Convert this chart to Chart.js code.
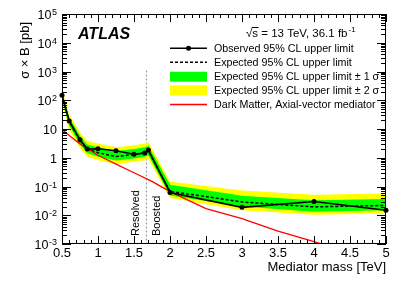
<!DOCTYPE html>
<html>
<head>
<meta charset="utf-8">
<script src="https://cdn.jsdelivr.net/npm/chart.js@4.4.1/dist/chart.umd.min.js"></script>
<style>
  body { margin: 0; background: #fff; }
  canvas { display: block; }
</style>
</head>
<body>
<canvas id="limits" width="407" height="281"></canvas>
<script>
// mediator masses [TeV]
var masses = [0.5, 0.6, 0.75, 0.85, 1.0, 1.25, 1.5, 1.65, 1.7, 2.0, 3.0, 4.0, 5.0];
var observed = [150, 19, 4.2, 2.0, 2.05, 1.75, 1.32, 1.45, 1.85, 0.062, 0.0188, 0.030, 0.0150];
var expected = [150, 18, 4.0, 2.0, 1.5, 1.1, 1.3, 1.5, 1.7, 0.068, 0.029, 0.0195, 0.022];
var plus2 = [240, 32, 7.5, 3.8, 3.1, 2.3, 2.7, 3.1, 3.5, 0.15, 0.072, 0.052, 0.057];
var plus1 = [195, 25, 5.8, 2.9, 2.3, 1.7, 2.0, 2.3, 2.6, 0.115, 0.048, 0.033, 0.037];
var minus1 = [110, 13, 2.9, 1.45, 1.08, 0.8, 0.94, 1.08, 1.22, 0.049, 0.020, 0.0133, 0.015];
var minus2 = [80, 9.5, 2.2, 1.1, 0.82, 0.6, 0.72, 0.82, 0.93, 0.040, 0.015, 0.0104, 0.0115];

// theory curve
var theoryMass = [0.5, 0.75, 1.0, 1.25, 1.5, 1.75, 2.0, 2.5, 3.0, 3.5, 4.0, 4.5, 5.0];
var theoryXsec = [9.5, 3.0, 1.22, 0.6, 0.3, 0.15, 0.066, 0.017, 0.0076, 0.0028, 0.0012, 0.0005, 0.00022];

var xTicks = [0.5, 1, 1.5, 2, 2.5, 3, 3.5, 4, 4.5, 5];
var yDecades = [-3, -2, -1, 0, 1, 2, 3, 4, 5];
var splitMass = 1.66;

var FONT = '"Liberation Sans", Arial, Helvetica, sans-serif';

function pts(xs, ys) {
    return xs.map(function(v, i) { return {x: v, y: ys[i]}; });
}

var atlasDecor = {
    id: 'atlasDecor',
    beforeDatasetsDraw: function(chart) {
        var ctx = chart.ctx, x = chart.scales.x, y = chart.scales.y;
        var px = Math.round(x.getPixelForValue(splitMass)) + 0.5;
        ctx.save();
        ctx.strokeStyle = '#999';
        ctx.lineWidth = 1.2;
        ctx.setLineDash([2, 2]);
        ctx.beginPath();
        ctx.moveTo(px, y.getPixelForValue(1000) - 1);
        ctx.lineTo(px, chart.chartArea.bottom);
        ctx.stroke();
        ctx.restore();
    },
    afterDraw: function(chart) {
        var ctx = chart.ctx, a = chart.chartArea;
        var x = chart.scales.x, y = chart.scales.y;
        ctx.save();
        ctx.strokeStyle = '#000';
        ctx.fillStyle = '#000';
        ctx.lineWidth = 1;
        ctx.strokeRect(a.left + 0.5, a.top + 0.5, a.right - a.left - 1, a.bottom - a.top - 1);

        // x ticks, bottom and top
        ctx.beginPath();
        for (var k = 5; k <= 50; k++) {
            var v = k / 10;
            var p = Math.round(x.getPixelForValue(v)) + 0.5;
            var len = (k % 5 === 0) ? 8 : 4;
            ctx.moveTo(p, a.bottom);
            ctx.lineTo(p, a.bottom - len);
            ctx.moveTo(p, a.top);
            ctx.lineTo(p, a.top + len);
        }
        // y ticks, left and right
        for (var e = -3; e <= 5; e++) {
            for (var m = 1; m <= 9; m++) {
                if (e === 5 && m > 1) break;
                var q = Math.round(y.getPixelForValue(m * Math.pow(10, e))) + 0.5;
                var l = (m === 1) ? 9 : 5;
                ctx.moveTo(a.left, q);
                ctx.lineTo(a.left + l, q);
                ctx.moveTo(a.right, q);
                ctx.lineTo(a.right - l, q);
            }
        }
        ctx.stroke();

        // x tick labels
        ctx.font = '13px ' + FONT;
        ctx.textAlign = 'center';
        ctx.textBaseline = 'alphabetic';
        xTicks.forEach(function(t) {
            ctx.fillText(String(t), x.getPixelForValue(t), a.bottom + 13);
        });

        // y tick labels
        yDecades.forEach(function(d) {
            var py = y.getPixelForValue(Math.pow(10, d));
            var right = 57;
            ctx.textAlign = 'right';
            if (d === 0 || d === 1) {
                ctx.font = '12.5px ' + FONT;
                ctx.fillText(d === 0 ? '1' : '10', right, py + 5);
            } else {
                ctx.font = '9px ' + FONT;
                var sup = String(d);
                var sw = ctx.measureText(sup).width;
                ctx.fillText(sup, right, py + 1);
                ctx.font = '12.5px ' + FONT;
                ctx.fillText('10', right - sw - 0.5, py + 5);
            }
        });

        // axis titles
        ctx.font = '13px ' + FONT;
        ctx.textAlign = 'right';
        ctx.fillText('Mediator mass [TeV]', a.right, 271);
        ctx.save();
        ctx.translate(25, 22);
        ctx.rotate(-Math.PI / 2);
        ctx.textBaseline = 'middle';
        ctx.fillText('\u03c3 \u00d7 B [pb]', 0, 0);
        ctx.restore();

        // ATLAS label
        ctx.font = 'italic bold 16px ' + FONT;
        ctx.textAlign = 'left';
        ctx.fillText('ATLAS', 78, 39);

        // energy and luminosity
        ctx.font = '11.5px ' + FONT;
        var tx = 246, ty = 37;
        ctx.fillText('\u221as = 13 TeV, 36.1 fb', tx, ty);
        var w1 = ctx.measureText('\u221a').width;
        var ws = ctx.measureText('s').width;
        var wAll = ctx.measureText('\u221as = 13 TeV, 36.1 fb').width;
        ctx.beginPath();
        ctx.moveTo(tx + w1 - 0.5, ty - 9.5);
        ctx.lineTo(tx + w1 + ws + 0.5, ty - 9.5);
        ctx.stroke();
        ctx.font = '8px ' + FONT;
        ctx.fillText('-1', tx + wAll + 1, ty - 5);

        // legend
        var lx0 = 170, lx1 = 207, txl = 214;
        var rows = [48.3, 62.3, 76.7, 90.5, 104.5];
        ctx.lineWidth = 1.6;
        ctx.beginPath();
        ctx.moveTo(lx0, rows[0]); ctx.lineTo(lx1, rows[0]);
        ctx.stroke();
        ctx.beginPath();
        ctx.arc((lx0 + lx1) / 2, rows[0], 2.5, 0, Math.PI * 2);
        ctx.fill();
        ctx.lineWidth = 1.5;
        ctx.setLineDash([3, 2]);
        ctx.beginPath();
        ctx.moveTo(lx0, rows[1]); ctx.lineTo(lx1, rows[1]);
        ctx.stroke();
        ctx.setLineDash([]);
        ctx.fillStyle = '#00ff00';
        ctx.fillRect(lx0, rows[2] - 5, lx1 - lx0, 10);
        ctx.fillStyle = '#ffff00';
        ctx.fillRect(lx0, rows[3] - 5, lx1 - lx0, 10);
        ctx.strokeStyle = '#ff0000';
        ctx.lineWidth = 1.3;
        ctx.beginPath();
        ctx.moveTo(lx0, rows[4]); ctx.lineTo(lx1, rows[4]);
        ctx.stroke();

        ctx.fillStyle = '#000';
        ctx.font = '10.7px ' + FONT;
        ctx.textBaseline = 'middle';
        var labels = ['Observed 95% CL upper limit', 'Expected 95% CL upper limit',
            'Expected 95% CL upper limit \u00b1 1 \u03c3', 'Expected 95% CL upper limit \u00b1 2 \u03c3',
            'Dark Matter, Axial-vector mediator'];
        labels.forEach(function(s, i) { ctx.fillText(s, txl, rows[i] + 0.5); });

        // region labels
        ctx.font = '11px ' + FONT;
        ctx.textBaseline = 'alphabetic';
        ctx.textAlign = 'left';
        [['Resolved', 138.5], ['Boosted', 159.5]].forEach(function(r) {
            ctx.save();
            ctx.translate(r[1], 236);
            ctx.rotate(-Math.PI / 2);
            ctx.fillText(r[0], 0, 0);
            ctx.restore();
        });
        ctx.restore();
    }
};

new Chart(document.getElementById('limits'), {
    type: 'line',
    data: {
        datasets: [{
            label: 'Observed',
            data: pts(masses, observed),
            borderColor: '#000',
            backgroundColor: '#000',
            borderWidth: 1.6,
            pointRadius: 2.5,
            pointBorderWidth: 0,
            pointHoverRadius: 2.5,
            clip: false,
            fill: false
        }, {
            label: 'Theory',
            data: pts(theoryMass, theoryXsec),
            borderColor: '#ff0000',
            borderWidth: 1.3,
            pointRadius: 0,
            fill: false
        }, {
            label: 'Expected',
            data: pts(masses, expected),
            borderColor: '#000',
            borderWidth: 1.5,
            borderDash: [3, 2],
            pointRadius: 0,
            fill: false
        }, {
            label: '+1 sigma',
            data: pts(masses, plus1),
            borderWidth: 0,
            pointRadius: 0,
            backgroundColor: '#00ff00',
            fill: '+1'
        }, {
            label: '-1 sigma',
            data: pts(masses, minus1),
            borderWidth: 0,
            pointRadius: 0,
            fill: false
        }, {
            label: '+2 sigma',
            data: pts(masses, plus2),
            borderWidth: 0,
            pointRadius: 0,
            backgroundColor: '#ffff00',
            fill: '+1'
        }, {
            label: '-2 sigma',
            data: pts(masses, minus2),
            borderWidth: 0,
            pointRadius: 0,
            fill: false
        }]
    },
    options: {
        responsive: false,
        devicePixelRatio: 1,
        animation: false,
        layout: {
            padding: {left: 62, top: 14, right: 21, bottom: 37}
        },
        elements: {
            line: {tension: 0}
        },
        scales: {
            x: {type: 'linear', min: 0.5, max: 5, display: false},
            y: {type: 'logarithmic', min: 0.001, max: 100000, display: false}
        },
        plugins: {
            legend: {display: false},
            tooltip: {enabled: false}
        }
    },
    plugins: [atlasDecor]
});
</script>
</body>
</html>
